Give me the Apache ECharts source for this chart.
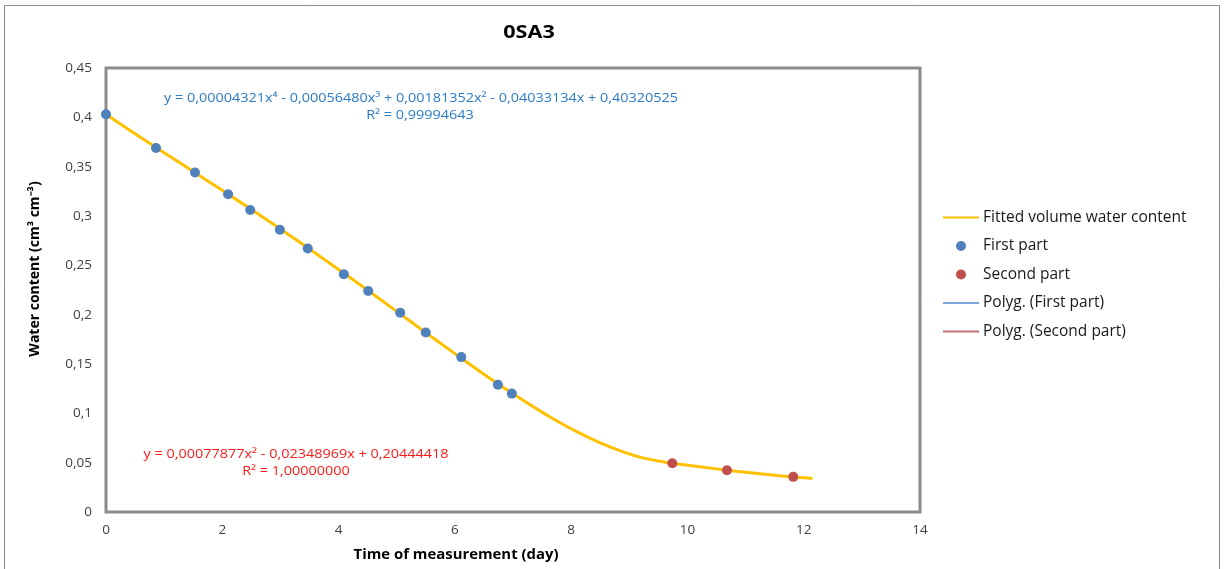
<!DOCTYPE html>
<html>
<head>
<meta charset="utf-8">
<script src="https://cdn.jsdelivr.net/npm/echarts@6/dist/echarts.min.js"></script>
<style>
html,body{margin:0;padding:0;background:#fff;}
#chart{width:1227px;height:569px;}
</style>
</head>
<body>
<div id="chart"></div>
<script>
// ---- data ----
const chartTitle = '0SA3';
const xAxisName = 'Time of measurement (day)';
const yAxisName = 'Water content (cm³ cm⁻³)';

const firstX = [0, 0.86, 1.53, 2.10, 2.48, 2.99, 3.47, 4.09, 4.51, 5.06, 5.50, 6.11, 6.74, 6.98];
const firstY = [0.403, 0.369, 0.344, 0.322, 0.306, 0.286, 0.267, 0.241, 0.224, 0.202, 0.182, 0.157, 0.129, 0.120];

const secondX = [9.74, 10.68, 11.82];
const secondY = [0.0494, 0.0424, 0.0356];

const fitX = [0, 0.5, 1, 1.5, 2, 2.5, 3, 3.5, 4, 4.5, 5, 5.5, 6, 6.5, 7, 7.5, 8, 8.5, 9, 9.25, 9.74, 10, 10.5, 11, 11.5, 12, 12.15];
const fitY = [0.4032, 0.3834, 0.3642, 0.3451, 0.3260, 0.3066, 0.2868, 0.2665, 0.2458, 0.2247, 0.2033, 0.1818, 0.1605, 0.1397, 0.1198, 0.1012, 0.0844, 0.0701, 0.0589, 0.0546, 0.0494, 0.0474, 0.0437, 0.0403, 0.0373, 0.0347, 0.0340];

const trend1X = [0, 0.5, 1, 1.5, 2, 2.5, 3, 3.5, 4, 4.5, 5, 5.5, 6, 6.5, 7, 7.5, 8, 8.5, 9, 9.25, 9.74];
const trend1Y = [0.4032, 0.3834, 0.3642, 0.3451, 0.3260, 0.3066, 0.2868, 0.2665, 0.2458, 0.2247, 0.2033, 0.1818, 0.1605, 0.1397, 0.1198, 0.1012, 0.0844, 0.0701, 0.0589, 0.0546, 0.0494];

const trend2X = [9.74, 10, 10.5, 11, 11.5, 11.82];
const trend2Y = [0.0494, 0.0474, 0.0437, 0.0403, 0.0373, 0.0356];

const seriesNames = ['Fitted volume water content', 'First part', 'Second part', 'Polyg. (First part)', 'Polyg. (Second part)'];

const eq1 = 'y = 0,00004321x⁴ - 0,00056480x³ + 0,00181352x² - 0,04033134x + 0,40320525';
const eq1R = 'R² = 0,99994643';
const eq2 = 'y = 0,00077877x² - 0,02348969x + 0,20444418';
const eq2R = 'R² = 1,00000000';

const xTicks = {min: 0, max: 14, interval: 2};
const yTicks = {min: 0, max: 0.45, interval: 0.05};

// ---- build ----
const zip = (xs, ys) => xs.map((x, i) => [x, ys[i]]);
const FONT = '"Open Sans", "Liberation Sans", sans-serif';
const fmt = v => String(+v.toFixed(4)).replace('.', ',');
const hiddenSym = {color: 'rgba(0,0,0,0)', borderWidth: 0, opacity: 0};
const txt = (text, x, y, font, fill, sx, extra) => Object.assign({
  type: 'text', silent: true, z: 10, x: x, y: y, scaleX: sx || 1,
  style: {text: text, x: 0, y: 0, textAlign: 'center', textVerticalAlign: 'middle', font: font, fill: fill}
}, extra || {});

const chart = echarts.init(document.getElementById('chart'), null, {renderer: 'canvas'});
chart.setOption({
  animation: false,
  backgroundColor: '#ffffff',
  textStyle: {fontFamily: FONT},
  grid: {left: 106, right: 307, top: 68, bottom: 57, show: true, borderColor: '#8c8c8c', borderWidth: 3, backgroundColor: '#ffffff'},
  xAxis: {
    type: 'value', min: xTicks.min, max: xTicks.max, interval: xTicks.interval,
    axisLine: {show: false}, axisTick: {show: false}, splitLine: {show: false},
    axisLabel: {color: '#404040', fontSize: 13.5, fontFamily: FONT, margin: 11, formatter: fmt}
  },
  yAxis: {
    type: 'value', min: yTicks.min, max: yTicks.max, interval: yTicks.interval,
    axisLine: {show: false}, axisTick: {show: false}, splitLine: {show: false},
    axisLabel: {color: '#404040', fontSize: 13.5, fontFamily: FONT, margin: 14, formatter: fmt}
  },
  legend: {
    orient: 'vertical', left: 942, top: 209.5, padding: 0, itemWidth: 36, itemHeight: 10, itemGap: 12.5,
    textStyle: {color: '#1a1a1a', fontSize: 15.5, fontFamily: FONT, padding: [0, 0, 0, -1]},
    data: [
      {name: seriesNames[0], itemStyle: hiddenSym},
      {name: seriesNames[1], icon: 'circle'},
      {name: seriesNames[2], icon: 'circle'},
      {name: seriesNames[3], itemStyle: hiddenSym},
      {name: seriesNames[4], itemStyle: hiddenSym}
    ]
  },
  series: [
    {name: seriesNames[0], type: 'line', data: zip(fitX, fitY), smooth: true, symbol: 'none', z: 3,
     lineStyle: {color: '#ffc000', width: 3}, itemStyle: {color: '#ffc000'}},
    {name: seriesNames[1], type: 'scatter', data: zip(firstX, firstY), symbolSize: 10, z: 5,
     itemStyle: {color: '#4f81bd', opacity: 1}},
    {name: seriesNames[2], type: 'scatter', data: zip(secondX, secondY), symbolSize: 10, z: 5,
     itemStyle: {color: '#c0504d', opacity: 1}},
    {name: seriesNames[3], type: 'line', data: zip(trend1X, trend1Y), smooth: true, symbol: 'none', z: 2,
     lineStyle: {color: '#7ba6dc', width: 1}, itemStyle: {color: '#7ba6dc'}},
    {name: seriesNames[4], type: 'line', data: zip(trend2X, trend2Y), smooth: true, symbol: 'none', z: 2,
     lineStyle: {color: '#c8706e', width: 1}, itemStyle: {color: '#c8706e'}}
  ],
  graphic: [
    {type: 'rect', silent: true, z: -1, shape: {x: 4.5, y: 5.5, width: 1215, height: 600}, style: {fill: null, stroke: '#8c8c8c', lineWidth: 1}},
    txt(chartTitle, 529, 33, 'bold 18px ' + FONT, '#000', 1.2),
    txt(xAxisName, 456, 555, 'bold 14px ' + FONT, '#000', 1.063),
    txt(yAxisName, 35, 269, 'bold 14px ' + FONT, '#000', 1, {rotation: Math.PI / 2, scaleY: 0.96}),
    txt(eq1, 421, 98, '13px ' + FONT, '#2c7bc4', 1.11),
    txt(eq1R, 420, 115, '13px ' + FONT, '#2c7bc4', 1.11),
    txt(eq2, 296, 454, '13px ' + FONT, '#ff1a1a', 1.11),
    txt(eq2R, 296, 471, '13px ' + FONT, '#ff1a1a', 1.11)
  ]
});
</script>
</body>
</html>
